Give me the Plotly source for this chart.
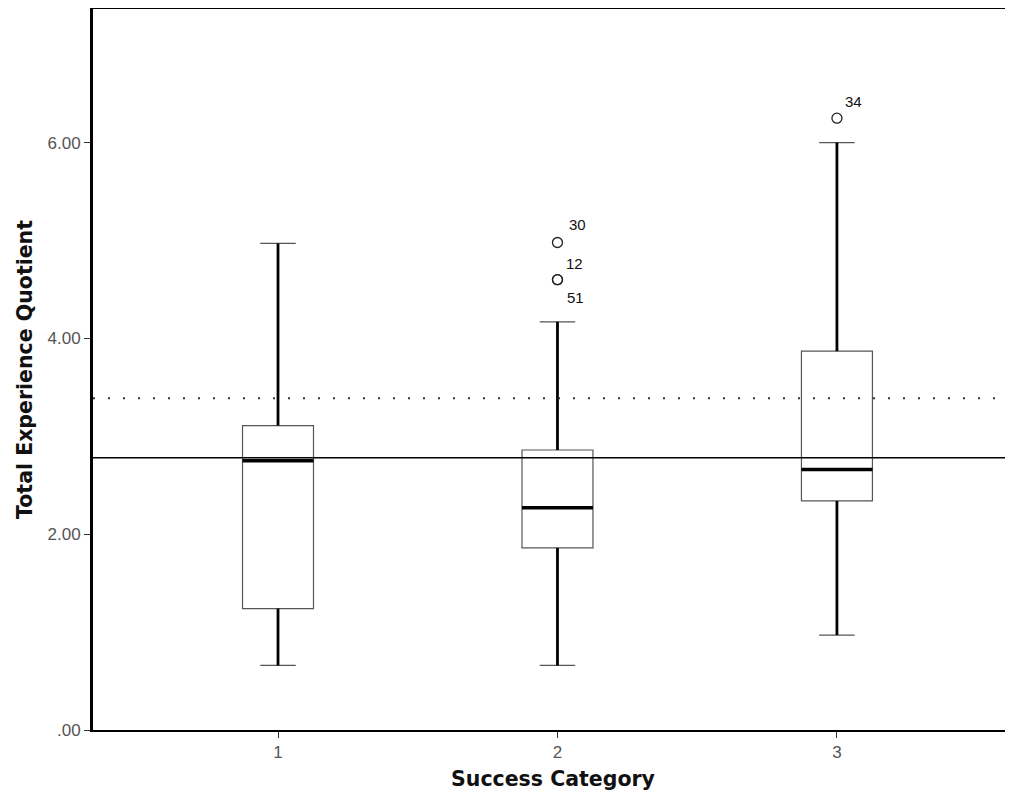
import plotly.graph_objects as go

# ---- data ----
categories = [1, 2, 3]
q1 = [1.24, 1.86, 2.34]
median = [2.75, 2.27, 2.66]
q3 = [3.11, 2.86, 3.87]
lower_whisker = [0.66, 0.66, 0.97]
upper_whisker = [4.97, 4.17, 6.00]

outlier_x = [2, 2, 2, 3]
outlier_y = [4.98, 4.60, 4.60, 6.25]
outlier_ids = ["30", "12", "51", "34"]

solid_ref = 2.78
dotted_ref = 3.39

y_tickvals = [0, 2, 4, 6]
y_ticktext = [".00", "2.00", "4.00", "6.00"]

box_w = 0.254

fig = go.Figure()

fig.add_trace(go.Box(
    x=categories, q1=q1, median=median, q3=q3,
    lowerfence=lower_whisker, upperfence=upper_whisker,
    width=box_w, whiskerwidth=0.5,
    line=dict(color="#555555", width=1.2),
    fillcolor="rgba(255,255,255,0)",
    boxpoints=False, showlegend=False, hoverinfo="skip",
))

# thick whiskers
wx, wy = [], []
for c, a, b, lo, hi in zip(categories, q1, q3, lower_whisker, upper_whisker):
    wx += [c, c, None, c, c, None]
    wy += [b, hi, None, lo, a, None]
fig.add_trace(go.Scatter(x=wx, y=wy, mode="lines",
                         line=dict(color="black", width=2.8),
                         showlegend=False, hoverinfo="skip"))

# thick medians
mx, my = [], []
for c, m in zip(categories, median):
    mx += [c - box_w / 2, c + box_w / 2, None]
    my += [m, m, None]
fig.add_trace(go.Scatter(x=mx, y=my, mode="lines",
                         line=dict(color="black", width=3.5),
                         showlegend=False, hoverinfo="skip"))

# outliers
fig.add_trace(go.Scatter(x=outlier_x, y=outlier_y, mode="markers",
                         marker=dict(symbol="circle-open", size=10,
                                     color="#222", line=dict(width=1.3)),
                         showlegend=False, hoverinfo="skip"))

label_shift = {"30": (20, 18), "12": (17, 16), "51": (18, -18), "34": (17, 17)}
for x, y, t in zip(outlier_x, outlier_y, outlier_ids):
    dx, dy = label_shift[t]
    fig.add_annotation(x=x, y=y, xref="x", yref="y", text=t, showarrow=False,
                       xshift=dx, yshift=dy,
                       font=dict(family="Liberation Sans, Arial", size=15, color="#111"))

# reference lines
fig.add_shape(type="line", xref="paper", yref="y", x0=0, x1=1,
              y0=solid_ref, y1=solid_ref,
              line=dict(color="black", width=1.5))
fig.add_shape(type="line", xref="paper", yref="y", x0=0, x1=1,
              y0=dotted_ref, y1=dotted_ref,
              line=dict(color="#333333", width=2, dash="2px,13px"))

tick_font = dict(family="Liberation Sans, Arial", size=17, color="#555")
title_font = dict(family="DejaVu Sans", size=20.5, color="#111")

fig.update_layout(
    width=1005, height=784,
    margin=dict(l=85, r=0, t=1, b=62),
    paper_bgcolor="white", plot_bgcolor="white",
    xaxis=dict(
        range=[0.338, 3.63], tickvals=categories, ticktext=[str(c) for c in categories],
        ticks="outside", ticklen=6, tickwidth=1, tickcolor="#333",
        showline=True, linecolor="black", linewidth=1.8, mirror=True,
        showgrid=False, zeroline=False,
        tickfont=tick_font,
        title=dict(text="<b>Success Category</b>", font=title_font, standoff=10),
    ),
    yaxis=dict(
        range=[0, 7.365], tickvals=y_tickvals, ticktext=y_ticktext,
        ticks="outside", ticklen=6, tickwidth=1, tickcolor="#333",
        showline=True, linecolor="black", linewidth=3, mirror=False,
        showgrid=False, zeroline=False,
        tickfont=tick_font,
        title=dict(text="<b>Total Experience Quotient</b>", font=title_font, standoff=10),
    ),
)

fig.write_html("out.html")
